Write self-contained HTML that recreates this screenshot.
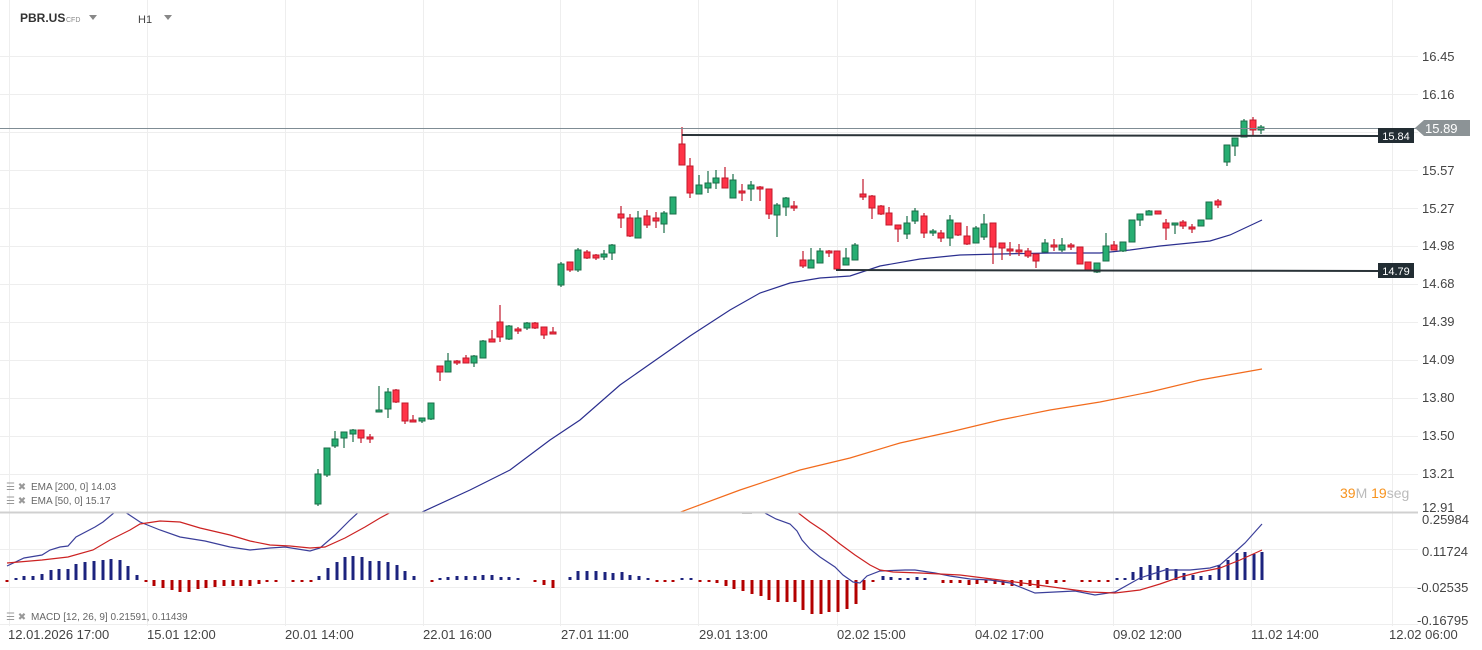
<!DOCTYPE html>
<html><head><meta charset="utf-8">
<style>
html,body{margin:0;padding:0;background:#fff;width:1482px;height:650px;overflow:hidden}
svg{display:block}
text{font-family:"Liberation Sans",sans-serif}
</style></head>
<body>
<svg id="s" width="1482" height="650" viewBox="0 0 1482 650" xmlns="http://www.w3.org/2000/svg">
<g id="grid" stroke="#eeeeee" stroke-width="1"></g>
<g id="ema"></g>
<g id="candles"></g>
<g id="macd"></g>
<!-- separators -->
<line x1="0" y1="512.5" x2="1418" y2="512.5" stroke="#d0d0d0" stroke-width="2"/>
<!-- current price line -->
<line x1="0" y1="128.5" x2="1418" y2="128.5" stroke="#7f8c94" stroke-width="1"/>
<!-- support/resistance -->
<line x1="682" y1="135" x2="1378" y2="136" stroke="#2a3338" stroke-width="2"/>
<line x1="836" y1="270" x2="1378" y2="271" stroke="#2a3338" stroke-width="2"/>
<rect x="1378" y="128" width="36" height="15" fill="#222d33"/>
<text x="1396" y="140" font-size="11" fill="#fff" text-anchor="middle">15.84</text>
<rect x="1378" y="263" width="36" height="15" fill="#222d33"/>
<text x="1396" y="275" font-size="11" fill="#fff" text-anchor="middle">14.79</text>
<polygon points="1415,128 1424,120 1470,120 1470,136 1424,136" fill="#8c9396"/>
<text x="1425" y="133" font-size="13" fill="#fff">15.89</text>
<!-- price axis -->
<g font-size="13" fill="#444">
<text x="1422" y="61">16.45</text>
<text x="1422" y="99">16.16</text>
<text x="1422" y="175">15.57</text>
<text x="1422" y="213">15.27</text>
<text x="1422" y="250">14.98</text>
<text x="1422" y="288">14.68</text>
<text x="1422" y="326">14.39</text>
<text x="1422" y="364">14.09</text>
<text x="1422" y="402">13.80</text>
<text x="1422" y="440">13.50</text>
<text x="1422" y="478">13.21</text>
<text x="1422" y="512">12.91</text>
<text x="1422" y="524">0.25984</text>
<text x="1422" y="556">0.11724</text>
<text x="1417" y="592">-0.02535</text>
<text x="1417" y="625">-0.16795</text>
</g>
<text x="1340" y="498" font-size="14"><tspan fill="#f7931e">39</tspan><tspan fill="#bbb">M </tspan><tspan fill="#f7931e">19</tspan><tspan fill="#bbb">seg</tspan></text>
<!-- time axis -->
<g font-size="13" fill="#444">
<text x="8" y="639">12.01.2026  17:00</text>
<text x="147" y="639">15.01  12:00</text>
<text x="285" y="639">20.01  14:00</text>
<text x="423" y="639">22.01  16:00</text>
<text x="561" y="639">27.01  11:00</text>
<text x="699" y="639">29.01  13:00</text>
<text x="837" y="639">02.02  15:00</text>
<text x="975" y="639">04.02  17:00</text>
<text x="1113" y="639">09.02  12:00</text>
<text x="1251" y="639">11.02  14:00</text>
<text x="1389" y="639">12.02  06:00</text>
</g>
<!-- legends -->
<g font-size="10" fill="#666">
<text x="6" y="490" fill="#999">☰ ✖</text><text x="31" y="490">EMA [200, 0] 14.03</text>
<text x="6" y="504" fill="#999">☰ ✖</text><text x="31" y="504">EMA [50, 0] 15.17</text>
<text x="6" y="620" fill="#999">☰ ✖</text><text x="31" y="620">MACD [12, 26, 9] 0.21591, 0.11439</text>
</g>
<!-- header -->
<text x="20" y="22" font-size="12" font-weight="bold" fill="#333">PBR.US</text>
<text x="66" y="22" font-size="7" fill="#888">CFD</text>
<polygon points="89,15 97,15 93,20" fill="#888"/>
<text x="138" y="23" font-size="11" fill="#444">H1</text>
<polygon points="164,15 172,15 168,20" fill="#888"/>
</svg>
<script>
var NS="http://www.w3.org/2000/svg";
function el(p,t,a){var e=document.createElementNS(NS,t);for(var k in a)e.setAttribute(k,a[k]);p.appendChild(e);return e;}
var g=document.getElementById('grid');
[9,147,285,423,560,698,837,975,1113,1251,1392].forEach(function(x){el(g,'line',{x1:x+.5,y1:0,x2:x+.5,y2:626});});
for(var k=0;k<12;k++){var y=56+38*k;el(g,'line',{x1:0,y1:y+.5,x2:1418,y2:y+.5});}
[549,587,624].forEach(function(y){el(g,'line',{x1:0,y1:y+.5,x2:1418,y2:y+.5});});
// candles: x, top, bottom, high, low, color
var C=[
[318,474,504,469,506,'g'],[327,448,475,448,477,'g'],[335,439,446,431,448,'g'],[344,432,438,432,448,'g'],[353,430,434,429,442,'g'],[361,430,438,430,443,'r'],[370,437,439,434,443,'r'],
[379,410,412,386,412,'g'],[388,392,409,388,418,'g'],[396,390,402,389,403,'r'],[405,403,421,403,424,'r'],[413,420,422,415,422,'r'],[422,418,421,418,423,'g'],[431,403,419,403,420,'g'],
[440,366,372,366,381,'r'],[448,361,372,353,372,'g'],[457,361,363,360,365,'r'],[466,358,363,355,363,'r'],[474,356,363,355,367,'g'],[483,341,358,340,358,'g'],[492,339,342,330,342,'r'],[500,322,337,305,342,'r'],[509,326,339,325,340,'g'],[518,329,331,327,334,'r'],[527,323,328,322,330,'g'],[535,323,328,322,329,'r'],[544,327,335,327,339,'r'],[553,332,334,327,334,'r'],
[561,264,285,262,287,'g'],[570,262,270,262,272,'r'],[578,250,270,248,272,'g'],[587,252,258,250,259,'r'],[596,255,258,254,260,'r'],[604,254,257,250,260,'g'],[612,245,253,244,260,'g'],
[621,214,218,206,228,'r'],[630,218,236,214,237,'r'],[638,218,238,211,238,'g'],[647,216,225,210,228,'r'],[656,218,221,212,228,'r'],[664,213,224,211,233,'g'],[673,197,214,197,214,'g'],
[682,144,165,127,165,'r'],[690,166,193,158,198,'r'],[699,185,194,175,194,'g'],[708,183,188,171,193,'g'],[716,178,183,170,189,'g'],[725,178,188,167,188,'r'],[733,180,198,174,198,'g'],[742,191,193,184,201,'r'],[751,185,189,181,201,'g'],[760,187,189,186,201,'r'],[769,189,214,189,219,'r'],[777,205,215,203,237,'g'],[786,198,207,197,216,'g'],[794,206,208,201,211,'r'],
[803,260,266,251,268,'r'],[811,260,268,248,268,'g'],[820,251,263,248,263,'g'],[829,251,253,250,257,'r'],[837,251,269,251,270,'r'],[846,258,265,248,265,'g'],[855,245,260,243,260,'g'],
[863,194,197,179,200,'r'],[872,196,208,195,219,'r'],[881,206,214,205,215,'r'],[889,213,225,207,225,'r'],[898,225,229,225,242,'r'],[907,223,234,216,239,'g'],[915,211,221,208,224,'g'],[924,216,233,213,238,'r'],[933,231,233,229,236,'g'],[941,233,238,230,242,'r'],[950,220,238,215,246,'g'],[958,223,235,223,236,'r'],[967,236,244,226,245,'r'],[976,228,243,226,243,'g'],[984,224,237,214,240,'g'],[993,223,247,223,264,'r'],[1002,243,248,243,260,'r'],[1010,249,251,242,256,'r'],[1019,250,252,244,256,'r'],[1028,251,256,248,258,'r'],[1036,254,261,254,268,'r'],[1045,243,252,239,252,'g'],[1054,245,247,239,251,'r'],[1062,245,250,238,252,'g'],[1071,245,247,243,250,'r'],[1080,247,264,247,264,'r'],[1088,262,270,262,270,'r'],[1097,263,272,263,273,'g'],[1106,246,261,233,261,'g'],[1114,245,250,241,250,'r'],[1123,242,251,242,252,'g'],[1132,220,242,220,242,'g'],[1140,214,220,214,226,'g'],[1149,211,215,210,215,'g'],[1158,211,214,211,214,'r'],[1166,223,228,219,240,'r'],[1175,223,225,223,234,'g'],[1183,222,226,220,229,'r'],[1192,227,229,224,233,'r'],[1201,220,226,220,226,'g'],[1209,202,219,202,219,'g'],[1218,201,205,199,208,'r'],
[1227,145,162,145,166,'g'],[1235,138,146,138,156,'g'],[1244,121,137,119,137,'g'],[1253,120,130,117,135,'r'],[1261,127,130,125,134,'g']];
var cg=document.getElementById('candles');
C.forEach(function(c){
 var fill=c[5]=='g'?'#27ae72':'#ff3347', st=c[5]=='g'?'#1a6e48':'#c0182b';
 el(cg,'line',{x1:c[0],y1:c[3],x2:c[0],y2:c[4],stroke:st,'stroke-width':1.2});
 el(cg,'rect',{x:c[0]-3,y:c[1],width:6,height:Math.max(2,c[2]-c[1]),fill:fill,stroke:st,'stroke-width':1});
});
var eg=document.getElementById('ema');
function pl(p,pts,col,w,clip){var e=el(p,'polyline',{points:pts,fill:'none',stroke:col,'stroke-width':w});if(clip)e.setAttribute('clip-path','url(#'+clip+')');return e;}
var defs=el(document.getElementById('s'),'defs',{});
var c1=el(defs,'clipPath',{id:'top'});el(c1,'rect',{x:0,y:0,width:1418,height:512});
var c2=el(defs,'clipPath',{id:'bot'});el(c2,'rect',{x:0,y:513,width:1418,height:112});
pl(eg,"420,513 470,490 510,470 550,440 580,420 620,385 660,357 690,336 730,310 760,293 790,283 820,278 850,276 880,266 920,259 960,255 1000,254 1050,253 1100,253 1130,250 1160,246 1190,243 1210,241 1230,235 1262,220",'#2b2f8f',1.2,'top');
pl(eg,"678,513 740,490 800,470 850,458 900,443 950,432 1000,420 1050,410 1100,402 1150,392 1200,380 1262,369",'#f26b1d',1.2,'top');
var mg=document.getElementById('macd');
// histogram: [x, h] positive=blue up, negative=red down
var H=[[7,-1],[16,1],[24,4],[33,4],[42,6],[51,10],[59,11],[68,11],[76,16],[85,18],[94,19],[103,20],[111,21],[120,20],[128,14],[137,5],[146,-1],[154,-6],[163,-8],[172,-10],[180,-12],[189,-12],[198,-9],[206,-8],[215,-7],[224,-6],[233,-6],[241,-6],[250,-6],[259,-4],[267,-2],[276,-1],[293,-2],[302,-2],[311,-2],[319,4],[328,12],[337,18],[345,23],[353,24],[362,23],[370,19],[379,19],[388,18],[397,15],[405,9],[414,4],[432,-2],
[440,1],[448,3],[457,4],[466,4],[475,4],[483,5],[492,5],[501,3],[509,3],[518,2],[535,-1],[544,-5],[553,-8],[570,3],[578,9],[587,9],[596,9],[605,8],[613,7],[622,8],[630,5],[639,4],[648,1],[657,-1],[665,-1],[673,-1],[682,2],[691,1],[700,-1],[709,-1],[717,-3],[726,-6],[734,-9],[743,-11],[752,-14],[761,-16],[769,-20],[778,-22],[787,-22],[795,-22],[803,-30],[812,-34],[821,-34],[829,-32],[838,-32],[847,-29],[856,-24],[864,-10],[873,-2],
[883,4],[891,3],[900,2],[908,2],[917,3],[925,1],[943,-3],[951,-3],[960,-3],[969,-5],[977,-4],[986,-3],[995,-4],[1003,-5],[1012,-6],[1021,-6],[1030,-6],[1038,-8],[1047,-4],[1056,-3],[1064,-2],[1082,-2],[1090,-2],[1099,-2],[1108,-1],[1117,1],[1125,2],[1133,8],[1141,13],[1150,15],[1158,14],[1167,12],[1176,11],[1184,7],[1193,5],[1201,4],[1210,5],[1219,15],[1228,20],[1237,27],[1245,28],[1254,26],[1262,28]];
var Z=580;
H.forEach(function(h){var v=h[1];
 if(v>=0) el(mg,'rect',{x:h[0]-1.5,y:Z-Math.max(2,v),width:3,height:Math.max(2,v),fill:'#1c237e'});
 else el(mg,'rect',{x:h[0]-1.5,y:Z,width:3,height:Math.max(2,-v),fill:'#b30000'});
});
pl(mg,"7,566 24,558 42,555 50,550 60,547 68,546 76,537 95,527 103,522 115,512 120,509 128,514 140,522 160,530 180,537 205,541 230,547 250,550 270,548 285,547 310,551 320,548 335,535 350,520 362,509 420,509 430,512 760,509 763,512 776,519 790,524 797,531 802,540 810,549 820,557 835,567 843,575 853,582 860,583 867,576 880,571 905,570 915,570 935,573 950,576 970,579 990,580 1010,583 1035,593 1055,592 1075,591 1095,595 1115,592 1140,578 1165,570 1190,570 1210,568 1220,565 1235,552 1245,543 1262,524",'#3b3f9a',1.2,'bot');
pl(mg,"7,563 42,560 68,557 93,550 110,540 130,530 140,524 160,521 180,522 200,528 230,535 250,541 270,545 290,546 310,548 325,547 345,538 365,527 380,518 395,510 790,510 797,512 810,522 825,532 840,544 855,555 870,565 880,570 893,572 920,573 960,575 1000,580 1030,584 1060,588 1090,592 1115,593 1140,590 1160,584 1180,577 1200,572 1220,568 1240,560 1262,550",'#cc2222',1.2,'bot');
el(mg,'rect',{x:742,y:512,width:10,height:2,fill:'#bbb'});
</script>
</body></html>
